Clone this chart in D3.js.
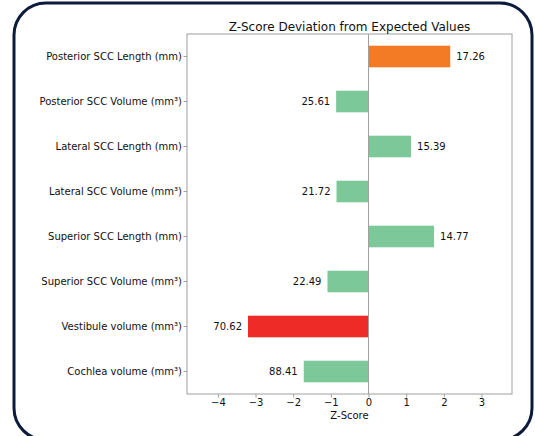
<!DOCTYPE html>
<html>
<head>
<meta charset="utf-8">
<script src="https://cdn.jsdelivr.net/npm/d3@7"></script>
<style>
  html, body { margin: 0; padding: 0; background: #fff; }
  svg { display: block; font-family: "DejaVu Sans", sans-serif; }
</style>
</head>
<body>
<svg id="chart" width="535" height="436"></svg>
<script>
// data
const categories = [
  "Posterior SCC Length (mm)",
  "Posterior SCC Volume (mm³)",
  "Lateral SCC Length (mm)",
  "Lateral SCC Volume (mm³)",
  "Superior SCC Length (mm)",
  "Superior SCC Volume (mm³)",
  "Vestibule volume (mm³)",
  "Cochlea volume (mm³)"
];
const zScores = [2.17, -0.86, 1.13, -0.85, 1.74, -1.09, -3.20, -1.72];
const measured = ["17.26", "25.61", "15.39", "21.72", "14.77", "22.49", "70.62", "88.41"];
const barColors = ["#f47b25", "#7dc898", "#7dc898", "#7dc898", "#7dc898", "#7dc898", "#ee2b27", "#7dc898"];
const xTicks = [-4, -3, -2, -1, 0, 1, 2, 3];

const svg = d3.select("#chart");

// rounded frame around the figure
svg.append("rect")
  .attr("x", 14)
  .attr("y", 3)
  .attr("width", 518)
  .attr("height", 437)
  .attr("rx", 32)
  .attr("fill", "none")
  .attr("stroke", "#0c1a3c")
  .attr("stroke-width", 3);

const plot = { left: 187, right: 512, top: 34, bottom: 394 };

const x = d3.scaleLinear()
  .domain([-4.82, 3.81])
  .range([plot.left, plot.right]);

const y = d3.scaleBand()
  .domain(categories)
  .range([plot.top, plot.bottom])
  .paddingInner(0.52)
  .paddingOuter(0.26);

const axisGrey = "#a0a0a0";

// bars
svg.append("g")
  .selectAll("rect")
  .data(zScores)
  .join("rect")
  .attr("x", (d) => x(Math.min(0, d)))
  .attr("y", (d, i) => y(categories[i]))
  .attr("width", (d) => Math.abs(x(d) - x(0)))
  .attr("height", y.bandwidth())
  .attr("fill", (d, i) => barColors[i]);

// zero line
svg.append("line")
  .attr("x1", x(0)).attr("x2", x(0))
  .attr("y1", plot.top).attr("y2", plot.bottom)
  .attr("stroke", axisGrey)
  .attr("stroke-width", 1);

// value labels at the bar ends
svg.append("g")
  .selectAll("text")
  .data(zScores)
  .join("text")
  .attr("x", (d) => (d >= 0 ? x(d) + 6 : x(d) - 6))
  .attr("y", (d, i) => y(categories[i]) + y.bandwidth() / 2)
  .attr("dy", "0.35em")
  .attr("text-anchor", (d) => (d >= 0 ? "start" : "end"))
  .attr("font-size", 10)
  .attr("fill", "#111")
  .text((d, i) => measured[i]);

// frame
svg.append("rect")
  .attr("x", plot.left)
  .attr("y", plot.top)
  .attr("width", plot.right - plot.left)
  .attr("height", plot.bottom - plot.top)
  .attr("fill", "none")
  .attr("stroke", axisGrey)
  .attr("stroke-width", 1);

// x axis
const xAxis = svg.append("g")
  .attr("transform", `translate(0,${plot.bottom})`)
  .call(d3.axisBottom(x).tickValues(xTicks).tickSize(3.5).tickPadding(1.5)
    .tickFormat((d) => (d < 0 ? "\u2212" + Math.abs(d) : d)));
xAxis.select(".domain").remove();
xAxis.selectAll("line").attr("stroke", axisGrey);
xAxis.selectAll("text").attr("font-size", 10).attr("fill", "#111")
  .attr("font-family", "DejaVu Sans, sans-serif");

// y axis
const yAxis = svg.append("g")
  .attr("transform", `translate(${plot.left},0)`)
  .call(d3.axisLeft(y).tickSize(3.5).tickPadding(1.5));
yAxis.select(".domain").remove();
yAxis.selectAll("line").attr("stroke", axisGrey);
yAxis.selectAll("text").attr("font-size", 10).attr("fill", "#111")
  .attr("font-family", "DejaVu Sans, sans-serif");

// title and axis label
svg.append("text")
  .attr("x", (plot.left + plot.right) / 2)
  .attr("y", 30.5)
  .attr("text-anchor", "middle")
  .attr("font-size", 12)
  .attr("fill", "#111")
  .text("Z-Score Deviation from Expected Values");

svg.append("text")
  .attr("x", (plot.left + plot.right) / 2)
  .attr("y", 419)
  .attr("text-anchor", "middle")
  .attr("font-size", 10)
  .attr("fill", "#111")
  .text("Z-Score");
</script>
</body>
</html>
